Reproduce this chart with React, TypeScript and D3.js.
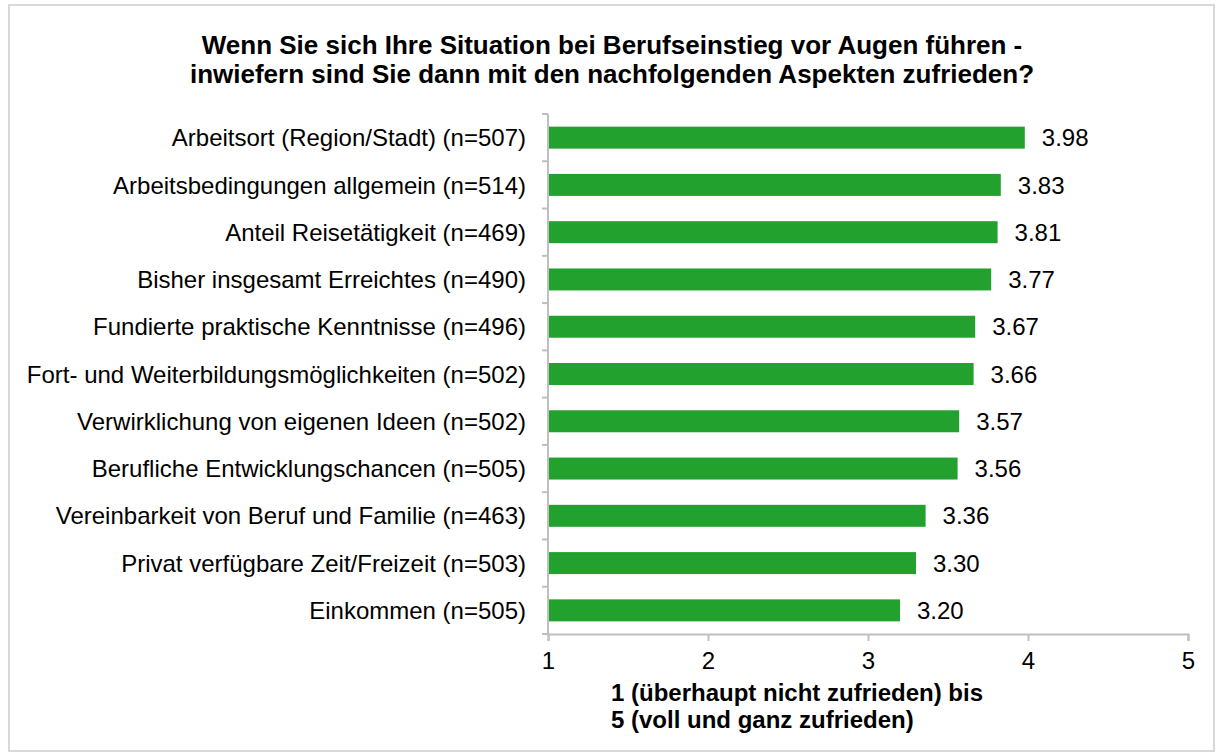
import React, { useEffect, useRef } from 'react';
import * as d3 from 'd3';

// Data
const categories = [
  'Arbeitsort (Region/Stadt)',
  'Arbeitsbedingungen allgemein',
  'Anteil Reisetätigkeit',
  'Bisher insgesamt Erreichtes',
  'Fundierte praktische Kenntnisse',
  'Fort- und Weiterbildungsmöglichkeiten',
  'Verwirklichung von eigenen Ideen',
  'Berufliche Entwicklungschancen',
  'Vereinbarkeit von Beruf und Familie',
  'Privat verfügbare Zeit/Freizeit',
  'Einkommen',
];
const counts = [507, 514, 469, 490, 496, 502, 502, 505, 463, 503, 505];
const means = [3.98, 3.83, 3.81, 3.77, 3.67, 3.66, 3.57, 3.56, 3.36, 3.30, 3.20];
const xTicks = [1, 2, 3, 4, 5];
const titleLines = [
  'Wenn Sie sich Ihre Situation bei Berufseinstieg vor Augen führen -',
  'inwiefern sind Sie dann mit den nachfolgenden Aspekten zufrieden?',
];
const axisTitleLines = ['1 (überhaupt nicht zufrieden) bis', '5 (voll und ganz zufrieden)'];

const App = () => {
  const svgRef = useRef<SVGSVGElement>(null);

  useEffect(() => {
    const W = 1223;
    const H = 753;
    const font = 'Arial, "Liberation Sans", sans-serif';
    const margin = { top: 114, right: 35, bottom: 119, left: 548 };
    const width = W - margin.left - margin.right;
    const height = H - margin.top - margin.bottom;

    const root = d3.select(svgRef.current);
    root.selectAll('*').remove();
    root.attr('width', W).attr('height', H);

    // Outer frame
    root
      .append('rect')
      .attr('x', 9)
      .attr('y', 5)
      .attr('width', W - 18)
      .attr('height', H - 7)
      .attr('fill', '#fff')
      .attr('stroke', '#d9d9d9')
      .attr('stroke-width', 2);

    // Title
    root
      .append('text')
      .attr('text-anchor', 'middle')
      .style('font-family', font)
      .style('font-size', '26px')
      .style('font-weight', 'bold')
      .selectAll('tspan')
      .data(titleLines)
      .enter()
      .append('tspan')
      .attr('x', 612)
      .attr('y', (_, i) => 54 + i * 29)
      .text(d => d);

    const svg = root.append('g').attr('transform', `translate(${margin.left}, ${margin.top})`);

    const x = d3.scaleLinear().domain([1, 5]).range([0, width]);
    const y = d3
      .scaleBand<string>()
      .domain(categories)
      .range([0, height])
      .paddingInner(0.535)
      .paddingOuter(0.2675);

    // Bars
    svg
      .selectAll('.bar')
      .data(means)
      .enter()
      .append('rect')
      .attr('x', x(1))
      .attr('y', (_, i) => y(categories[i])!)
      .attr('width', d => x(d) - x(1))
      .attr('height', y.bandwidth())
      .attr('fill', '#23a12f');

    // Value labels
    svg
      .selectAll('.val')
      .data(means)
      .enter()
      .append('text')
      .attr('x', d => x(d) + 17)
      .attr('y', (_, i) => y(categories[i])! + y.bandwidth() / 2)
      .attr('dy', '0.36em')
      .style('font-family', font)
      .style('font-size', '24px')
      .text(d => d.toFixed(2));

    // Category labels
    svg
      .selectAll('.cat')
      .data(categories)
      .enter()
      .append('text')
      .attr('x', -22)
      .attr('y', d => y(d)! + y.bandwidth() / 2)
      .attr('dy', '0.36em')
      .attr('text-anchor', 'end')
      .style('font-family', font)
      .style('font-size', '24px')
      .text((d, i) => `${d} (n=${counts[i]})`);

    const axisColor = '#bfbfbf';

    // Y axis line with ticks at the band boundaries
    svg
      .append('line')
      .attr('x1', 0)
      .attr('x2', 0)
      .attr('y1', 0)
      .attr('y2', height)
      .attr('stroke', axisColor)
      .attr('stroke-width', 2);
    const step = y.step();
    svg
      .selectAll('.ytick')
      .data(d3.range(categories.length + 1))
      .enter()
      .append('line')
      .attr('x1', -6)
      .attr('x2', 0)
      .attr('y1', i => i * step)
      .attr('y2', i => i * step)
      .attr('stroke', axisColor)
      .attr('stroke-width', 2);

    // X axis
    const xAxis = svg
      .append('g')
      .attr('transform', `translate(0, ${height})`)
      .call(
        d3
          .axisBottom(x)
          .tickValues(xTicks)
          .tickSize(7)
          .tickPadding(11)
          .tickFormat(d3.format('d'))
      );
    xAxis.select('.domain').attr('stroke', axisColor).attr('stroke-width', 2);
    xAxis.selectAll('.tick line').attr('stroke', axisColor).attr('stroke-width', 2);
    xAxis
      .selectAll('.tick text')
      .attr('fill', '#000')
      .style('font-family', font)
      .style('font-size', '24px');

    // X axis title
    root
      .append('text')
      .style('font-family', font)
      .style('font-size', '24px')
      .style('font-weight', 'bold')
      .selectAll('tspan')
      .data(axisTitleLines)
      .enter()
      .append('tspan')
      .attr('x', 611)
      .attr('y', (_, i) => 701 + i * 27)
      .text(d => d);
  }, []);

  return <svg ref={svgRef} style={{ position: 'absolute', left: 0, top: 0 }}></svg>;
};

export default App;
